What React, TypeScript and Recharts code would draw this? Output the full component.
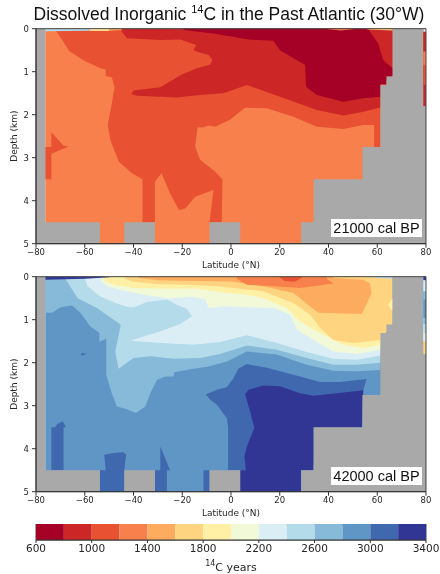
import { Area, Bar, BarChart, ComposedChart, Label, ReferenceArea, XAxis, YAxis } from "recharts";

// contour levels and palette of the colour bar
const colorTicks = [600, 1000, 1400, 1800, 2200, 2600, 3000, 3400];
const bandColors = [
  "#a50026", "#cc2627", "#e85233", "#f8804c", "#fdab5f", "#fed480", "#fff0a5",
  "#f1f9d8", "#dceef5", "#b4dbea", "#86bad8", "#6096c6", "#3f68ae", "#313695",
];
const bandWidth = 200;
const latTicks = [-80, -60, -40, -20, 0, 20, 40, 60, 80];
const depthTicks = [0, 1, 2, 3, 4, 5];

// sea floor mask, same in both panels
const maskLat = [-80, -76.2, -76.2, -53.8, -53.8, -43.8, -43.8, -31.2, -31.2, -8.8, -8.8, 3.8, 3.8, 28.8, 28.8, 33.9, 33.9, 53.9, 53.9, 61.3, 61.3, 63.8, 63.8, 66.3, 66.3, 80];
const maskDepth = [0, 0, 4.5, 4.5, 5, 5, 4.5, 4.5, 5, 5, 4.5, 4.5, 5, 5, 4.5, 4.5, 3.5, 3.5, 2.75, 2.75, 1.31, 1.31, 1.11, 1.11, 0, 0];

// ---- 21000 cal BP contours (latitude, depth in km)
const oceanLat = [-76.2, 80];
const oceanDepth = [5, 5];

const lgm1000Lat = [-72, -71.4, -66.2, -60, -53.6, -51.4, -51.4, -48.9, -47.8, -48.9, -50.6, -49.5, -46.1, -40.7, -36.3, -36.3, -31.2, -31.2, -28.5, -25, -21.3, -18.8, -14.7, -7.2, -8.8, -3.8, -3.5, -7.2, -12.7, -14.7, -13.7, -11.5, -9.2, -6.5, -0.4, 5.8, 14.7, 25.6, 35.2, 46.1, 54.3, 58.7, 58.7, 61.3, 61.3, 66.3, 66.3];
const lgm1000Depth = [0.04, 0.08, 0.53, 0.75, 0.92, 0.95, 1.1, 1.13, 1.36, 1.74, 2.24, 2.59, 3.09, 3.36, 3.5, 4.5, 4.5, 3.56, 3.36, 3.83, 4.22, 4.18, 3.91, 3.75, 4.5, 4.5, 3.5, 3.29, 3.05, 2.74, 2.29, 2.3, 2.25, 2.28, 2.12, 1.84, 1.85, 2.05, 2.28, 2.33, 2.24, 2.24, 2.75, 2.75, 1.3, 1.1, 0];

const lgmTongueLat = [-73.7, -68.7, -66.6, -73.7, -73.7, -76.2, -76.2, -73.7, -73.7];
const lgmTongueDepth = [2.41, 2.72, 2.74, 2.91, 3.5, 3.5, 2.75, 2.75, 2.41];

const lgm800Lat = [-44.8, -42.7, -29, -20.8, -14.3, -15.4, -12.6, -9.2, -7.6, -8.6, -14, -20.8, -29, -40, -40.9, -38.6, -22.2, -12.7, -3.1, 6.5, 20.1, 35.2, 46.1, 54.3, 61.3, 61.3, 66.3, 66.3];
const lgm800Depth = [0.07, 0.22, 0.26, 0.25, 0.38, 0.5, 0.56, 0.61, 0.73, 0.84, 0.92, 1.08, 1.36, 1.44, 1.52, 1.56, 1.6, 1.54, 1.5, 1.31, 1.58, 1.89, 2.02, 1.93, 1.83, 1.3, 1.1, 0];

const lgm600Lat = [-19.5, -7.2, 7.2, 17.4, 20.1, 25.6, 30.4, 30.8, 35.2, 46.1, 54.3, 61.3, 61.3, 63.8, 63.8, 66.3, 66.3, 62.4, 60.4, 57];
const lgm600Depth = [0.03, 0.11, 0.25, 0.28, 0.5, 0.69, 0.84, 1.35, 1.54, 1.7, 1.62, 1.58, 1.3, 1.3, 1.1, 1.1, 0.92, 0.73, 0.34, 0.07];

const lgmStripBlueLat = [-76.2, -58];
const lgmStripBlueDepth = [0.06, 0.05];
const lgmStripYellowLat = [-58, -50];
const lgmStripYellowDepth = [0.05, 0.05];
const lgmStripOrangeLat = [-50, -45];
const lgmStripOrangeDepth = [0.05, 0.03];
const lgmStripEastLat = [56, 66.3];
const lgmStripEastDepth = [0.02, 0.04];
const lgmStripMidLat = [40, 45, 50];
const lgmStripMidDepth = [0.01, 0.04, 0.01];

// column at the far right edge, top to bottom
const lgmEdgeDepths = [0.07, 0.53, 0.84, 1.31, 1.8];
const lgmEdgeBands = [8, 1, 3, 2, 1];

// ---- 42000 cal BP contours
const old3200Lat = [5.8, 7.2, 13.3, 20.1, 28.3, 33.8, 43.4, 54.3, 53.7, 33.8, 33.8, 28.7, 28.7, 3.7, 3.7, 6.1, 5.5, 6.5, 9.6, 7.8, 5.8];
const old3200Depth = [2.74, 2.63, 2.53, 2.55, 2.71, 2.77, 2.71, 2.64, 3.5, 3.5, 4.5, 4.5, 5, 5, 4.5, 4.5, 4.18, 3.95, 3.52, 3.13, 2.74];

const old3000Lat = [-10.3, -5.8, -1.7, 1, 3, 6.5, 14.7, 28.3, 36.5, 44.7, 55.6, 53.7, 53.7, 30, -1.2, -1.2, -1.7, -5.8, -8.5, -10.3];
const old3000Depth = [2.74, 2.63, 2.57, 2.36, 2.14, 2.03, 2.12, 2.32, 2.45, 2.45, 2.38, 2.76, 3.5, 4.5, 4.5, 3.5, 3.29, 2.98, 2.86, 2.74];

const oldPatchALat = [-73.7, -73.7, -68.7, -68.7, -67.7, -69.1, -71.4, -72.1, -73.7];
const oldPatchADepth = [3.5, 4.5, 4.5, 3.5, 3.5, 3.36, 3.43, 3.5, 3.5];
const oldPatchBLat = [-52, -51.4, -53.8, -53.8, -43.8, -43.8, -43, -44.1, -48.2, -52];
const oldPatchBDepth = [4.14, 4.5, 4.5, 5, 5, 4.5, 4.14, 4.08, 4.1, 4.14];
const oldPatchCLat = [-29, -25, -26.3, -26.3, -31.2, -31.2, -29, -29];
const oldPatchCDepth = [3.95, 4.5, 4.5, 5, 5, 4.5, 4.5, 3.95];
const oldPatchDLat = [-11.3, -11.3, -8.8, -8.8, -11.3];
const oldPatchDDepth = [4.5, 5, 5, 4.5, 4.5];
const oldPatchELat = [-61.4, -59, -61.4, -61.4];
const oldPatchEDepth = [1.78, 1.79, 1.83, 1.78];

const old2600Lat = [-76.2, -76.2, -73.4, -70, -65.2, -61.8, -57.7, -54, -54, -51.2, -51.2, -48.9, -46.8, -43.4, -39, -35.2, -33.1, -30.4, -27, -23.6, -23.3, -15.4, -9.2, -1.7, 6.5, 18.8, 31, 42, 51.6, 61.3, 61.3];
const old2600Depth = [0, 0.84, 0.84, 0.71, 0.67, 0.84, 1.16, 1.31, 1.52, 1.44, 2.28, 2.71, 3.02, 3.07, 3.17, 3.02, 2.71, 2.4, 2.32, 2.32, 2.22, 2.14, 2.09, 1.97, 1.74, 1.81, 2.05, 2.19, 2.2, 2.17, 0];

const old2400Lat = [-67.7, -62.9, -55, -45.2, -47.5, -46.1, -40, -33.1, -23.6, -12.7, -4.5, 6.5, 18.8, 31, 42, 51.6, 61.3, 61.3];
const old2400Depth = [0.07, 0.5, 0.73, 1.12, 1.74, 2.14, 1.89, 1.85, 1.91, 1.89, 1.8, 1.6, 1.7, 1.89, 2.05, 2.05, 2, 0];

const old2200Lat = [-59.8, -58.8, -53.6, -47.5, -42, -39.7, -34.5, -26.3, -22.2, -18.1, -16, -20.8, -29, -41.3, -26.3, -15.4, -4.5, 6.5, 18.8, 31, 42, 51.6, 61.3, 61.3];
const old2200Depth = [0.07, 0.22, 0.46, 0.61, 0.71, 0.71, 0.59, 0.53, 0.65, 0.75, 0.92, 1.1, 1.27, 1.49, 1.55, 1.58, 1.52, 1.36, 1.54, 1.75, 1.91, 1.93, 1.83, 0];

const old2000Lat = [-53, -50.9, -46.1, -35.9, -26.3, -15.4, -10.6, -9.2, -3.1, 6.5, 17.4, 24.2, 27, 33.8, 42, 51.6, 61.3, 61.3];
const old2000Depth = [0.11, 0.22, 0.3, 0.42, 0.5, 0.47, 0.53, 0.73, 0.69, 0.71, 0.73, 0.88, 1.23, 1.47, 1.74, 1.8, 1.7, 0];

const old1800Lat = [-52.3, -48.2, -40, -26.3, -14, -1.7, 6.5, 13.3, 22.9, 28.3, 36.5, 46.1, 54.3, 61.3, 61.3];
const old1800Depth = [0.09, 0.19, 0.26, 0.28, 0.28, 0.38, 0.42, 0.5, 0.73, 1.04, 1.31, 1.58, 1.66, 1.58, 0];

const old1600Lat = [-43.4, -40, -30.4, -18.1, -5.8, 3.7, 13.3, 25.6, 32.4, 36.5, 42, 50.2, 61.3, 66.3, 66.3];
const old1600Depth = [0.05, 0.12, 0.17, 0.19, 0.22, 0.28, 0.34, 0.61, 0.88, 1.19, 1.47, 1.54, 1.47, 1.11, 0];

const oldWedgeLat = [66.3, 64.4, 66.3, 66.3];
const oldWedgeDepth = [0.5, 0.65, 0.81, 0.5];

const old1400Lat = [-38, -30, -15, 0, 3.7, 14.7, 25.6, 32.4, 35.8, 53.6, 55.2, 57.7, 57, 54.3, 42];
const old1400Depth = [0.03, 0.08, 0.1, 0.11, 0.14, 0.24, 0.38, 0.69, 0.84, 0.87, 0.69, 0.38, 0.15, 0.07, 0.03];

const old1200Lat = [2.4, 6.5, 14.7, 28.3, 42, 39.3];
const old1200Depth = [0.05, 0.19, 0.21, 0.26, 0.16, 0.05];

const old1000Lat = [20.1, 22, 26, 29];
const old1000Depth = [0.02, 0.1, 0.12, 0.03];

const oldStripWestLat = [-76.2, -60, -50];
const oldStripWestDepth = [0.07, 0.05, 0.01];
const oldStripEastLat = [57, 63, 66.3];
const oldStripEastDepth = [0.01, 0.04, 0.04];

const oldEdgeDepths = [0.08, 0.34, 0.53, 0.96, 1.1, 1.31, 1.5, 1.8];
const oldEdgeBands = [13, 8, 10, 11, 10, 9, 8, 5];

const edgeLat = [78.9, 80];

type Shape = { band: number; lat: number[]; depth: number[]; base?: number };

const lgmShapes: Shape[] = [
  { band: 3, lat: oceanLat, depth: oceanDepth },
  { band: 2, lat: lgm1000Lat, depth: lgm1000Depth },
  { band: 2, lat: lgmTongueLat, depth: lgmTongueDepth },
  { band: 1, lat: lgm800Lat, depth: lgm800Depth },
  { band: 0, lat: lgm600Lat, depth: lgm600Depth },
  { band: 9, lat: lgmStripBlueLat, depth: lgmStripBlueDepth },
  { band: 6, lat: lgmStripYellowLat, depth: lgmStripYellowDepth },
  { band: 4, lat: lgmStripOrangeLat, depth: lgmStripOrangeDepth },
  { band: 5, lat: lgmStripEastLat, depth: lgmStripEastDepth },
  { band: 3, lat: lgmStripMidLat, depth: lgmStripMidDepth },
];

const oldShapes: Shape[] = [
  { band: 11, lat: oceanLat, depth: oceanDepth },
  { band: 12, lat: old3000Lat, depth: old3000Depth },
  { band: 13, lat: old3200Lat, depth: old3200Depth },
  { band: 12, lat: oldPatchALat, depth: oldPatchADepth },
  { band: 12, lat: oldPatchBLat, depth: oldPatchBDepth },
  { band: 12, lat: oldPatchCLat, depth: oldPatchCDepth },
  { band: 12, lat: oldPatchDLat, depth: oldPatchDDepth },
  { band: 12, lat: oldPatchELat, depth: oldPatchEDepth },
  { band: 10, lat: old2600Lat, depth: old2600Depth },
  { band: 9, lat: old2400Lat, depth: old2400Depth },
  { band: 8, lat: old2200Lat, depth: old2200Depth },
  { band: 7, lat: old2000Lat, depth: old2000Depth },
  { band: 6, lat: old1800Lat, depth: old1800Depth },
  { band: 5, lat: old1600Lat, depth: old1600Depth },
  { band: 6, lat: oldWedgeLat, depth: oldWedgeDepth },
  { band: 4, lat: old1400Lat, depth: old1400Depth },
  { band: 3, lat: old1200Lat, depth: old1200Depth },
  { band: 2, lat: old1000Lat, depth: old1000Depth },
  { band: 13, lat: oldStripWestLat, depth: oldStripWestDepth },
  { band: 9, lat: oldStripEastLat, depth: oldStripEastDepth },
];

const tickFont = { fontFamily: "DejaVu Sans", fontSize: 8.5, fill: "#262626" };
const labelFont = { fontFamily: "DejaVu Sans", fontSize: 9, fill: "#262626" };
const lineStyle = { stroke: "#333", strokeWidth: 1 };

const toRows = (s: Shape) => s.lat.map((lat, i) => ({ lat, span: [s.base ?? 0, s.depth[i]] }));
const minus = (v: number) => String(v).replace("-", "\u2212");

function ContourPanel({ shapes, edgeDepths, edgeBands, top, name }: any) {
  const edges: Shape[] = edgeDepths
    .map((d: number, i: number) => ({ band: edgeBands[i], lat: edgeLat, depth: [d, d] }))
    .reverse();
  const drawn: any[] = [
    ...shapes.map((s: Shape) => ({ ...s, fill: bandColors[s.band] })),
    { lat: maskLat, depth: maskDepth, base: 5, fill: "#a9a9a9" },
    ...edges.map((s) => ({ ...s, fill: bandColors[s.band] })),
  ];
  return (
    <div style={{ position: "absolute", left: 0, top }}>
      <ComposedChart width={440} height={254.7} margin={{ top: 10.7, right: 14, bottom: 0, left: 0 }}>
        <XAxis
          type="number"
          dataKey="lat"
          domain={[-80, 80]}
          ticks={latTicks}
          tickFormatter={minus}
          tick={tickFont}
          tickSize={4}
          tickMargin={1}
          axisLine={lineStyle}
          tickLine={lineStyle}
          height={29}
          interval={0}
          allowDuplicatedCategory
        >
          <Label value="Latitude (°N)" position="insideBottom" offset={5} style={labelFont} />
        </XAxis>
        <YAxis
          type="number"
          reversed
          domain={[0, 5]}
          ticks={depthTicks}
          tick={tickFont}
          tickSize={4}
          tickMargin={3}
          axisLine={lineStyle}
          tickLine={lineStyle}
          width={36}
          interval={0}
        >
          <Label value="Depth (km)" angle={-90} position="insideLeft" offset={14} style={{ ...labelFont, textAnchor: "middle" }} />
        </YAxis>
        {drawn.map((s, i) => (
          <Area
            key={i}
            data={toRows(s)}
            dataKey="span"
            type="linear"
            fill={s.fill}
            fillOpacity={1}
            stroke="none"
            dot={false}
            activeDot={false}
            isAnimationActive={false}
          />
        ))}
        <ReferenceArea x1={-80} x2={80} y1={0} y2={5} fill="none" stroke="#444" strokeWidth={1} />
      </ComposedChart>
      <div
        style={{
          position: "absolute",
          left: 331,
          top: 201,
          width: 91,
          height: 18,
          background: "#fff",
          textAlign: "center",
          font: "14.5px/18px 'Liberation Sans'",
          color: "#111",
          whiteSpace: "nowrap",
        }}
      >
        {name}
      </div>
    </div>
  );
}

const barRow = [Object.fromEntries([["start", colorTicks[0]], ...bandColors.map((_, i) => [`b${i}`, bandWidth])])];

export default function App() {
  return (
    <div style={{ position: "absolute", left: 0, top: 0, width: 440, height: 574, background: "#fff", filter: "blur(0.45px)" }}>
      <div
        style={{
          position: "absolute",
          left: 0,
          width: 458,
          top: 3,
          textAlign: "center",
          font: "17.5px/22px 'Liberation Sans'",
          color: "#111",
          whiteSpace: "nowrap",
        }}
      >
        Dissolved Inorganic <sup style={{ fontSize: 11, lineHeight: 0 }}>14</sup>C in the Past Atlantic (30°W)
      </div>
      <ContourPanel shapes={lgmShapes} edgeDepths={lgmEdgeDepths} edgeBands={lgmEdgeBands} top={18} name="21000 cal BP" />
      <ContourPanel shapes={oldShapes} edgeDepths={oldEdgeDepths} edgeBands={oldEdgeBands} top={266.3} name="42000 cal BP" />
      <div style={{ position: "absolute", left: 0, top: 524 }}>
        <BarChart
          width={440}
          height={34}
          layout="vertical"
          data={barRow}
          barCategoryGap={0}
          margin={{ top: 0, right: 14, bottom: 0, left: 36 }}
        >
          <XAxis
            type="number"
            domain={[colorTicks[0], colorTicks[colorTicks.length - 1]]}
            ticks={colorTicks}
            allowDataOverflow
            interval={0}
            tick={{ fontFamily: "DejaVu Sans", fontSize: 10.5, fill: "#262626" }}
            tickSize={3}
            axisLine={lineStyle}
            tickLine={lineStyle}
            height={18}
          />
          <YAxis type="category" hide />
          <Bar dataKey="start" stackId="c" fill="none" isAnimationActive={false} />
          {bandColors.map((c, i) => (
            <Bar key={c} dataKey={`b${i}`} stackId="c" fill={c} isAnimationActive={false} />
          ))}
          <ReferenceArea x1={600} x2={3400} fill="none" stroke="#444" strokeWidth={1} />
        </BarChart>
      </div>
      <div
        style={{
          position: "absolute",
          left: 36,
          width: 390,
          top: 561,
          textAlign: "center",
          font: "11px/13px 'DejaVu Sans'",
          color: "#262626",
        }}
      >
        <sup style={{ fontSize: 8, lineHeight: 0 }}>14</sup>C years
      </div>
    </div>
  );
}
